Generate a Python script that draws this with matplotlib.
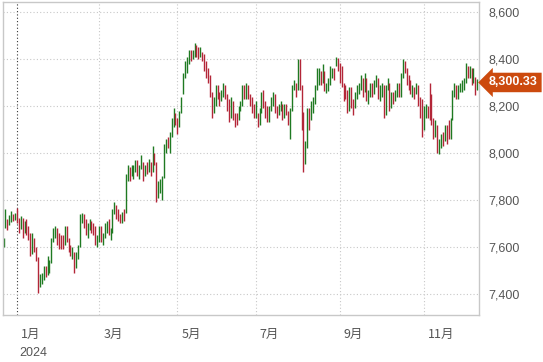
import matplotlib
matplotlib.use("Agg")
import matplotlib.pyplot as plt
import matplotlib.transforms as mtransforms
import pandas as pd

# Daily bars (high / low / close), FTSE 100-style index, Dec 2023 - Dec 2024
highs = [
    # Dec 2023
    7640, 7760, 7718, 7735, 7752, 7740, 7746,
    # Jan
    7766, 7722, 7730, 7725, 7710, 7720, 7690, 7660, 7660, 7640, 7600,
    7558, 7485, 7490, 7520, 7520, 7560, 7545, 7640, 7680, 7690, 7680,
    # Feb
    7660, 7650, 7650, 7690, 7690, 7640, 7610, 7600, 7580, 7580, 7610,
    7740, 7745, 7740, 7720, 7700, 7720, 7710, 7700, 7690, 7650,
    # Mar
    7690, 7690, 7660, 7700, 7710, 7720, 7680, 7760, 7790, 7780,
    7760, 7740, 7750, 7760, 7910, 7950, 7940, 7950, 7950, 7970,
    # Apr
    7970, 7950, 7990, 7960, 7950, 7960, 7975, 7960, 8030, 8000, 7960,
    7880, 7890, 7900, 8040, 8060, 8070, 8090, 8150, 8190, 8170,
    # May
    8150, 8180, 8240, 8340, 8390, 8410, 8440, 8440, 8440, 8470, 8460,
    8450, 8450, 8430, 8420, 8390, 8360, 8330, 8260, 8240, 8290,
    # Jun
    8290, 8260, 8270, 8300, 8290, 8250, 8230, 8240, 8220, 8170,
    8170, 8200, 8220, 8290, 8290, 8300, 8290, 8250, 8240, 8210,
    # Jul
    8220, 8170, 8190, 8260, 8270, 8220, 8200, 8200, 8240, 8260, 8250, 8200,
    8210, 8220, 8210, 8210, 8210, 8180, 8190, 8290, 8310, 8300, 8400,
    # Aug
    8400, 8290, 8175, 8050, 8190, 8190, 8220, 8240, 8290, 8360, 8360,
    8350, 8380, 8350, 8300, 8320, 8370, 8360, 8360, 8410, 8405,
    # Sep
    8385, 8370, 8300, 8290, 8270, 8280, 8280, 8230, 8260, 8290, 8300,
    8330, 8320, 8340, 8320, 8270, 8300, 8300, 8310, 8330, 8320,
    # Oct
    8290, 8300, 8290, 8290, 8320, 8300, 8260, 8260, 8270, 8300, 8300, 8340,
    8400, 8390, 8360, 8330, 8310, 8290, 8280, 8300, 8290, 8240, 8230,
    # Nov
    8200, 8210, 8200, 8300, 8250, 8150, 8140, 8120, 8060, 8080, 8090,
    8120, 8120, 8140, 8150, 8270, 8300, 8290, 8290, 8300, 8310,
    # Dec 2024
    8320, 8385, 8370, 8370, 8360, 8360, 8325, 8315,
]

lows = [
    # Dec 2023
    7598, 7680, 7672, 7692, 7706, 7712, 7714,
    # Jan
    7700, 7660, 7675, 7640, 7660, 7650, 7630, 7560, 7570, 7580, 7540,
    7404, 7430, 7440, 7460, 7470, 7480, 7490, 7530, 7620, 7640, 7610,
    # Feb
    7590, 7590, 7590, 7610, 7620, 7580, 7560, 7550, 7490, 7510, 7550,
    7600, 7700, 7680, 7650, 7640, 7670, 7660, 7650, 7610, 7600,
    # Mar
    7620, 7620, 7610, 7640, 7660, 7650, 7630, 7660, 7740, 7720,
    7710, 7700, 7700, 7710, 7745, 7880, 7880, 7900, 7890, 7920,
    # Apr
    7900, 7890, 7930, 7880, 7900, 7910, 7920, 7900, 7920, 7950, 7790,
    7810, 7830, 7800, 7895, 8000, 8020, 8000, 8070, 8110, 8120,
    # May
    8080, 8110, 8170, 8250, 8320, 8340, 8380, 8390, 8400, 8410, 8410,
    8400, 8410, 8390, 8350, 8320, 8300, 8240, 8150, 8170, 8200,
    # Jun
    8230, 8200, 8220, 8240, 8230, 8180, 8130, 8150, 8140, 8110,
    8120, 8140, 8180, 8200, 8230, 8230, 8230, 8200, 8170, 8150,
    # Jul
    8150, 8110, 8120, 8170, 8190, 8150, 8130, 8130, 8180, 8200, 8170, 8150,
    8160, 8180, 8140, 8150, 8160, 8120, 8060, 8180, 8270, 8240, 8270,
    # Aug
    8270, 8100, 7920, 7955, 8020, 8100, 8140, 8170, 8210, 8270, 8290,
    8290, 8300, 8265, 8255, 8265, 8290, 8320, 8310, 8370, 8350,
    # Sep
    8298, 8280, 8220, 8230, 8170, 8180, 8190, 8160, 8190, 8230, 8250,
    8270, 8240, 8260, 8220, 8210, 8240, 8240, 8250, 8280, 8230,
    # Oct
    8220, 8240, 8150, 8160, 8270, 8180, 8190, 8210, 8220, 8240, 8240, 8240,
    8320, 8340, 8290, 8270, 8250, 8240, 8230, 8250, 8200, 8150, 8068,
    # Nov
    8100, 8150, 8150, 8140, 8120, 8060, 8070, 8000, 7995, 8020, 8030,
    8050, 8040, 8060, 8060, 8140, 8240, 8230, 8230, 8260, 8260,
    # Dec 2024
    8270, 8300, 8320, 8320, 8290, 8300, 8247, 8270,
]

closes = [
    # Dec 2023
    7638, 7715, 7694, 7697, 7725, 7722, 7733,
    # Jan
    7721, 7682, 7723, 7689, 7694, 7683, 7651, 7576, 7625, 7594, 7558,
    7446, 7459, 7461, 7487, 7485, 7527, 7529, 7635, 7666, 7666, 7630,
    # Feb
    7622, 7615, 7612, 7681, 7628, 7595, 7572, 7573, 7512, 7568, 7597,
    7711, 7728, 7719, 7662, 7685, 7706, 7684, 7683, 7624, 7630,
    # Mar
    7682, 7640, 7646, 7679, 7692, 7659, 7669, 7747, 7772, 7743,
    7727, 7722, 7738, 7737, 7882, 7930, 7917, 7931, 7931, 7952,
    # Apr
    7935, 7937, 7975, 7911, 7943, 7934, 7961, 7923, 7996, 7965, 7820,
    7847, 7877, 7895, 8023, 8044, 8040, 8078, 8139, 8147, 8144,
    # May
    8121, 8172, 8213, 8313, 8354, 8381, 8433, 8414, 8428, 8445, 8438,
    8420, 8424, 8416, 8370, 8339, 8317, 8254, 8183, 8231, 8275,
    # Jun
    8262, 8232, 8246, 8285, 8245, 8228, 8148, 8215, 8163, 8146,
    8142, 8191, 8205, 8272, 8237, 8281, 8247, 8225, 8179, 8164,
    # Jul
    8166, 8121, 8171, 8241, 8203, 8193, 8139, 8193, 8223, 8253, 8182, 8165,
    8187, 8205, 8155, 8198, 8167, 8153, 8186, 8285, 8292, 8274, 8368,
    # Aug
    8283, 8175, 8008, 8026, 8166, 8145, 8168, 8210, 8235, 8281, 8347,
    8311, 8357, 8273, 8283, 8288, 8327, 8345, 8343, 8379, 8377,
    # Sep
    8363, 8298, 8269, 8241, 8181, 8270, 8206, 8193, 8240, 8273, 8278,
    8309, 8253, 8329, 8230, 8259, 8282, 8268, 8284, 8320, 8237,
    # Oct
    8276, 8291, 8167, 8281, 8303, 8191, 8245, 8238, 8254, 8292, 8249, 8329,
    8385, 8358, 8318, 8306, 8259, 8269, 8248, 8285, 8220, 8159, 8110,
    # Nov
    8177, 8184, 8172, 8166, 8140, 8072, 8125, 8025, 8030, 8071, 8063,
    8109, 8099, 8085, 8149, 8262, 8291, 8259, 8274, 8280, 8287,
    # Dec 2024
    8312, 8359, 8336, 8349, 8308, 8352, 8280, 8300.33,
]

holidays = ["2023-12-25", "2023-12-26", "2024-01-01", "2024-03-29",
            "2024-04-01", "2024-05-06", "2024-05-27", "2024-08-26"]
label_months = [1, 3, 5, 7, 9, 11]
y_ticks = [7400, 7600, 7800, 8000, 8200, 8400, 8600]

UP = "#1f7a22"
DOWN = "#b32638"
TAG = "#cc4a0e"
GRID = "#c8c8c8"
TEXT = "#555555"

dates = pd.bdate_range("2023-12-19", "2024-12-11")
dates = dates[~dates.isin(pd.to_datetime(holidays))]
n = min(len(dates), len(highs), len(lows), len(closes))
dates = dates[:n]
idx = list(range(n))

colors = [UP]
for i in range(1, n):
    colors.append(UP if closes[i] >= closes[i - 1] else DOWN)

fig = plt.figure(figsize=(5.43, 3.62), dpi=100)
ax = fig.add_axes([3 / 543, 47 / 362, 476 / 543, 313 / 362])

ax.vlines(idx, lows[:n], highs[:n], colors=colors, lw=1.0)

ax.set_xlim(-0.3, 248.9)
ax.set_ylim(7310, 8643)

# horizontal grid + right-hand labels
ax.set_yticks(y_ticks)
ax.set_yticklabels([f"{v:,}" for v in y_ticks])
ax.yaxis.tick_right()
ax.tick_params(axis="y", length=0, pad=7, labelsize=9, labelcolor=TEXT)
for lab in ax.get_yticklabels():
    lab.set_family(["Liberation Sans", "DejaVu Sans"])
ax.grid(axis="y", color=GRID, ls=(0, (1, 2)), lw=0.8)

# month grid lines and labels
ax.set_xticks([])
month_pos = []
for m in label_months:
    first = [i for i, d in enumerate(dates) if d.year == 2024 and d.month == m][0]
    month_pos.append(first)
for m, pos in zip(label_months, month_pos):
    if m == 1:
        ax.axvline(pos, color="#333333", ls=(0, (1, 2)), lw=0.8, zorder=0)
    else:
        ax.axvline(pos, color=GRID, ls=(0, (1, 2)), lw=0.8, zorder=0)
    ax.annotate(f"{m}月", xy=(pos, 0), xycoords=("data", "axes fraction"),
                xytext=(3, -9), textcoords="offset points", ha="left", va="top",
                fontsize=9, color=TEXT,
                family=["Noto Sans CJK JP", "DejaVu Sans"])
ax.annotate("2024", xy=(month_pos[0], 0), xycoords=("data", "axes fraction"),
            xytext=(2, -23), textcoords="offset points", ha="left", va="top",
            fontsize=9, color=TEXT, family=["Liberation Sans", "DejaVu Sans"])

for side in ax.spines.values():
    side.set_color(GRID)
    side.set_linewidth(1.0)

# last price tag
trans = mtransforms.blended_transform_factory(ax.transAxes, ax.transData)
ax.text(1.021, closes[n - 1], f"{closes[n - 1]:,.2f}", transform=trans,
        ha="left", va="center", fontsize=9, color="white", fontweight="bold",
        family=["Liberation Sans", "DejaVu Sans"], clip_on=False,
        bbox=dict(boxstyle="larrow,pad=0.3", fc=TAG, ec="none"))

fig.savefig("out.png", dpi=100)
